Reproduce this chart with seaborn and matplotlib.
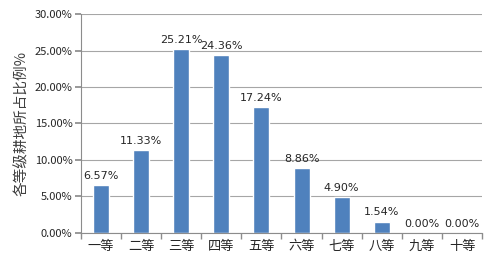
import matplotlib
matplotlib.use("Agg")
import matplotlib.pyplot as plt
import seaborn as sns
import pandas as pd
import numpy as np
from matplotlib.ticker import FixedLocator, PercentFormatter

categories = ["一等", "二等", "三等", "四等", "五等", "六等", "七等", "八等", "九等", "十等"]
values = [6.57, 11.33, 25.21, 24.36, 17.24, 8.86, 4.90, 1.54, 0.00, 0.00]
ylabel = "各等级耕地所占比例%"

sns.set_theme(style="white")
plt.rcParams['font.family'] = ['Noto Sans CJK SC', 'DejaVu Sans']

df = pd.DataFrame({"cat": categories, "val": values})
fig = plt.figure(figsize=(4.96, 2.65), dpi=100)
ax = fig.add_axes([0.163, 0.121, 0.809, 0.826])
sns.barplot(data=df, x="cat", y="val", color="#4F81BD", saturation=1, width=0.4, ax=ax)

ax.set_ylim(0, 30)
ax.set_xlim(-0.5, len(categories) - 0.5)
ax.set_yticks(np.arange(0, 31, 5))
ax.yaxis.set_major_formatter(PercentFormatter(decimals=2))
ax.grid(axis="y", color="#a6a6a6", linewidth=0.8)
ax.set_axisbelow(True)
for s in ["top", "right"]:
    ax.spines[s].set_visible(False)
for s in ["left", "bottom"]:
    ax.spines[s].set_color("#8c8c8c")
    ax.spines[s].set_linewidth(0.8)

ax.tick_params(axis="y", which="major", length=4, color="#8c8c8c", labelsize=8, pad=2, left=True, labelcolor="#262626")
ax.tick_params(axis="x", which="major", length=0, labelsize=9.5, pad=5, labelcolor="#262626")
ax.xaxis.set_minor_locator(FixedLocator(np.arange(-0.5, len(categories), 1)))
ax.tick_params(axis="x", which="minor", length=4, color="#8c8c8c", bottom=True)

ax.set_xlabel("")
ax.set_ylabel(ylabel, fontsize=10.5, labelpad=4, color="#404040")

for i, v in enumerate(values):
    ax.text(i, v + 0.6, f"{v:.2f}%", ha="center", va="bottom", fontsize=8, family="DejaVu Sans", color="#262626")

fig.savefig("out.png", dpi=100)
